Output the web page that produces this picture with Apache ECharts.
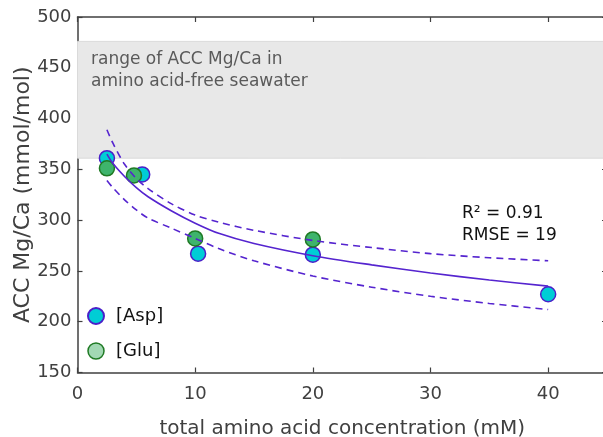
<!DOCTYPE html>
<html>
<head>
<meta charset="utf-8">
<script src="https://cdn.jsdelivr.net/npm/echarts@6/dist/echarts.min.js"></script>
<style>
html,body{margin:0;padding:0;background:#fff;overflow:hidden;}
#chart{width:603px;height:437px;}
</style>
</head>
<body>
<div id="chart"></div>
<script>
// ---- data ----
const aspConc = [2.5, 5.5, 10.25, 20, 40];
const aspMgCa = [361, 345, 267, 266, 227];
const gluConc = [2.5, 4.8, 10, 20];
const gluMgCa = [351, 344, 282, 281];
const fitConc  = [2.5, 3, 4, 5, 6, 8, 10, 12, 15, 20, 25, 30, 35, 40];
const fitMgCa  = [365, 356, 343, 332, 323, 309, 297, 287, 277, 265, 256, 248, 241, 235];
const upperMgCa = [389, 376, 355, 341, 331, 316, 305, 298, 290, 280, 273, 267, 263, 260];
const lowerMgCa = [339, 332, 320, 310, 302, 292, 282, 272, 260, 245, 234, 225, 218, 212];
const seawaterRange = [361, 476];
const xTickValues = [0, 10, 20, 30, 40];
const yTickValues = [150, 200, 250, 300, 350, 400, 450, 500];
const seriesNames = ['[Asp]', '[Glu]'];
const bandText = 'range of ACC Mg/Ca in\namino acid-free seawater';
const statsText = 'R\u00B2 = 0.91\nRMSE = 19';

const zip = (a, b) => a.map((v, i) => [v, b[i]]);
const FONT = 'DejaVu Sans';
const AX = '#404040';
const LINE = '#5524cf';

const axisCommon = {
  type: 'value',
  axisLine: { show: true, onZero: false, lineStyle: { color: AX, width: 1.5 } },
  axisTick: { show: true, inside: true, length: 5, lineStyle: { color: AX, width: 1.2 } },
  splitLine: { show: false }
};

const chart = echarts.init(document.getElementById('chart'), null, { renderer: 'canvas' });
chart.setOption({
  animation: false,
  backgroundColor: '#ffffff',
  grid: { left: 77.5, right: -4, top: 17, bottom: 64.5, containLabel: false, outerBoundsMode: 'none' },
  xAxis: [
    Object.assign({}, axisCommon, {
      position: 'bottom', min: xTickValues[0], max: 45, interval: xTickValues[1] - xTickValues[0],
      axisLabel: { margin: 13, color: AX, fontSize: 18, fontFamily: FONT, showMaxLabel: false },
      name: 'total amino acid concentration (mM)', nameLocation: 'middle', nameGap: 46,
      nameMoveOverlap: false,
      nameTextStyle: { fontSize: 20, color: AX, fontFamily: FONT }
    }),
    Object.assign({}, axisCommon, {
      position: 'top', min: xTickValues[0], max: 45, interval: xTickValues[1] - xTickValues[0],
      axisLabel: { show: false }
    })
  ],
  yAxis: [
    Object.assign({}, axisCommon, {
      position: 'left', min: yTickValues[0], max: yTickValues[yTickValues.length - 1],
      interval: yTickValues[1] - yTickValues[0],
      axisLabel: { margin: 6, color: AX, fontSize: 18, fontFamily: FONT },
      name: 'ACC Mg/Ca (mmol/mol)', nameLocation: 'middle', nameGap: 43,
      nameMoveOverlap: false,
      nameTextStyle: { fontSize: 22, color: AX, fontFamily: FONT }
    }),
    Object.assign({}, axisCommon, {
      position: 'right', min: yTickValues[0], max: yTickValues[yTickValues.length - 1],
      interval: yTickValues[1] - yTickValues[0],
      axisLabel: { show: false }
    })
  ],
  legend: {
    data: [
      { name: seriesNames[0] },
      { name: seriesNames[1], itemStyle: { color: '#a2d8b4', borderColor: '#1f7a24', borderWidth: 1.5 } }
    ],
    orient: 'vertical', left: 87, top: 307, padding: 0,
    icon: 'circle', itemWidth: 30, itemHeight: 16, itemGap: 17,
    textStyle: { fontSize: 18, color: '#111', fontFamily: FONT, lineHeight: 18 }
  },
  graphic: [{
    type: 'text', left: 462, top: 203, z: 100,
    style: { text: statsText, fill: '#111', font: '17px "DejaVu Sans"', lineHeight: 21.5 }
  }],
  series: [
    {
      type: 'line', data: [], z: 1, silent: true,
      markArea: {
        silent: true,
        itemStyle: { color: '#e8e8e8', borderColor: '#dadada', borderWidth: 1 },
        label: {
          show: true, position: 'insideTopLeft', distance: 8, offset: [6, 0],
          color: '#5a5a5a', fontSize: 17, fontFamily: FONT, lineHeight: 22, align: 'left'
        },
        data: [[{ yAxis: seawaterRange[0], name: bandText }, { yAxis: seawaterRange[1] }]]
      }
    },
    {
      name: seriesNames[0], type: 'scatter', z: 2,
      data: zip(aspConc, aspMgCa), symbol: 'circle', symbolSize: 15,
      itemStyle: { color: '#00cdd5', borderColor: '#4a1fc9', borderWidth: 1.5, opacity: 1 }
    },
    {
      name: seriesNames[1], type: 'scatter', z: 2,
      data: zip(gluConc, gluMgCa), symbol: 'circle', symbolSize: 15,
      itemStyle: { color: '#3eb46c', borderColor: '#1f7a24', borderWidth: 1.5, opacity: 1 }
    },
    {
      type: 'line', z: 3, data: zip(fitConc, fitMgCa), showSymbol: false, smooth: 0.3,
      lineStyle: { color: LINE, width: 1.6 }, silent: true
    },
    {
      type: 'line', z: 3, data: zip(fitConc, upperMgCa), showSymbol: false, smooth: 0.3,
      lineStyle: { color: LINE, width: 1.6, type: [7, 5] }, silent: true
    },
    {
      type: 'line', z: 3, data: zip(fitConc, lowerMgCa), showSymbol: false, smooth: 0.3,
      lineStyle: { color: LINE, width: 1.6, type: [7, 5] }, silent: true
    }
  ]
});
</script>
</body>
</html>
